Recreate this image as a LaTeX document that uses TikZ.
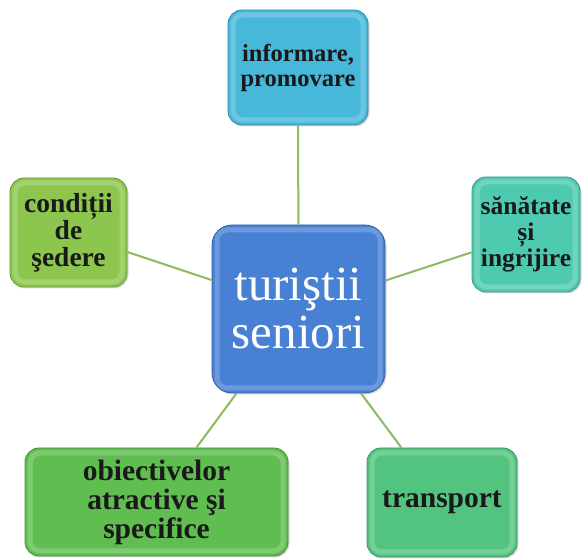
\documentclass[tikz,border=0pt]{standalone}
\usepackage{fontspec}
\setmainfont{Liberation Serif}
\usetikzlibrary{shadows}
\definecolor{infoblue}{RGB}{72,184,218}
\definecolor{condgreen}{RGB}{140,198,78}
\definecolor{santeal}{RGB}{78,202,176}
\definecolor{coreblue}{RGB}{72,128,212}
\definecolor{obgreen}{RGB}{96,190,80}
\definecolor{trgreen}{RGB}{82,196,128}
\definecolor{linkgreen}{RGB}{140,186,92}
\begin{document}
\begin{tikzpicture}[x=1pt, y=1pt,
  topic/.style={draw=#1!75!black, line width=0.8pt, fill=#1, rounded corners=14pt,
                align=center, font=\bfseries, text=black!90,
                drop shadow={opacity=0.3, shadow xshift=1.5pt, shadow yshift=-1.5pt},
                path picture={\draw[white, opacity=0.2, line width=5pt, rounded corners=10pt]
                  ([shift={(5pt,5pt)}]path picture bounding box.south west) rectangle
                  ([shift={(-5pt,-5pt)}]path picture bounding box.north east);}},
  link/.style={draw=linkgreen, line width=2pt}]
  \useasboundingbox (0,0) rectangle (582,559);

  \node (core) [topic=coreblue, rounded corners=20pt, minimum width=173pt, minimum height=168pt,
                font=\fontsize{49}{48}\selectfont, text=white]
               at (298.5,250) {turiştii\\seniori};

  \node (info) [topic=infoblue, minimum width=140pt, minimum height=115pt,
                font=\bfseries\fontsize{24.5}{25}\selectfont]
               at (298,491.5) {informare,\\promovare};
  \node (cond) [topic=condgreen, minimum width=117pt, minimum height=109pt,
                font=\bfseries\fontsize{27.5}{27}\selectfont]
               at (68.5,326.5) {condiții\\de\\şedere};
  \node (san)  [topic=santeal, minimum width=108pt, minimum height=115pt,
                font=\bfseries\fontsize{25.5}{26}\selectfont]
               at (526,324.5) {sănătate\\și\\ingrijire};
  \node (obj)  [topic=obgreen, minimum width=263pt, minimum height=108pt,
                font=\bfseries\fontsize{29.5}{29}\selectfont]
               at (156.5,57) {obiectivelor\\atractive şi\\specifice};
  \node (trans) [topic=trgreen, minimum width=150pt, minimum height=109pt,
                font=\bfseries\fontsize{29.5}{29}\selectfont]
               at (442,56.5) {transport};

  \draw[link] (core) -- (info);
  \draw[link] (core) -- (cond);
  \draw[link] (core) -- (san);
  \draw[link] (core) -- (obj);
  \draw[link] (core) -- (trans);
\end{tikzpicture}
\end{document}
